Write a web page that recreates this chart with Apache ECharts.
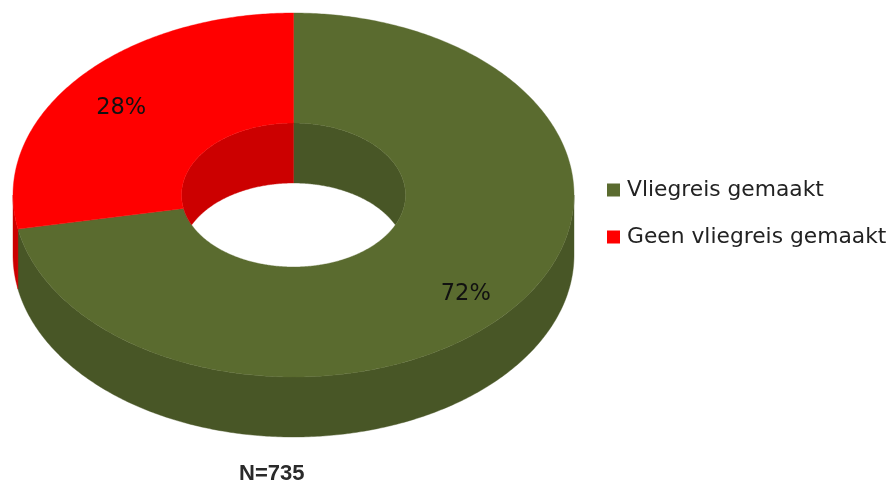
<!DOCTYPE html>
<html><head><meta charset="utf-8">
<style>html,body{margin:0;padding:0;background:#fff}#c{width:892px;height:481px}</style>
<script src="https://cdn.jsdelivr.net/npm/echarts@6/dist/echarts.min.js"></script>
</head><body><div id="c"></div>
<script>
const categories = ['Vliegreis gemaakt', 'Geen vliegreis gemaakt'];
const percentages = [72, 28];
const sampleNote = 'N=735';
const faceColors = ['#5a6b2f', '#ff0000'];
const wallColors = ['#485626', '#cc0000'];

const geom = {cx: 293.5, cy: 195, rx: 280.5, ry: 182, irx: 112, iry: 72, depth: 60};
const total = percentages.reduce((a, b) => a + b, 0);
const TAU = Math.PI * 2;
function pt(a, rx, ry, dy) {
  return [geom.cx + rx * Math.sin(a), geom.cy + (dy || 0) - ry * Math.cos(a)];
}
function sampleAngles(a0, a1) {
  const n = Math.max(2, Math.ceil((a1 - a0) / 0.01));
  const out = [];
  for (let i = 0; i <= n; i++) out.push(a0 + (a1 - a0) * i / n);
  return out;
}
function renderSlice(idx) {
  return function () {
    let before = 0;
    for (let i = 0; i < idx; i++) before += percentages[i];
    const a0 = before / total * TAU;
    const a1 = (before + percentages[idx]) / total * TAU;
    const children = [];
    const style = c => ({fill: c, stroke: c, lineWidth: 0.4});
    // outer wall: front half (PI/2 .. 3PI/2)
    const w0 = Math.max(a0, Math.PI / 2), w1 = Math.min(a1, Math.PI * 1.5);
    if (w1 > w0) {
      const as = sampleAngles(w0, w1);
      const pts = as.map(a => pt(a, geom.rx, geom.ry));
      as.slice().reverse().forEach(a => pts.push(pt(a, geom.rx, geom.ry, geom.depth)));
      children.push({type: 'polygon', shape: {points: pts}, style: style(wallColors[idx])});
    }
    // inner wall: back half of the hole, clipped to the hole
    [[-TAU, 0], [0, TAU]].forEach(([lo]) => {
      const s = Math.max(a0 + lo, -Math.PI / 2), e = Math.min(a1 + lo, Math.PI / 2);
      if (e <= s) return;
      const as = sampleAngles(s, e);
      const pts = as.map(a => pt(a, geom.irx, geom.iry));
      as.slice().reverse().forEach(a => {
        const top = pt(a, geom.irx, geom.iry);
        const floor = geom.cy + geom.iry * Math.cos(a);
        pts.push([top[0], Math.min(top[1] + geom.depth, floor)]);
      });
      children.push({type: 'polygon', shape: {points: pts}, style: style(wallColors[idx])});
    });
    // top face
    const as = sampleAngles(a0, a1);
    const face = as.map(a => pt(a, geom.rx, geom.ry));
    as.slice().reverse().forEach(a => face.push(pt(a, geom.irx, geom.iry)));
    children.push({type: 'polygon', shape: {points: face}, style: style(faceColors[idx])});
    // percentage label
    const mid = (a0 + a1) / 2;
    const p = pt(mid, geom.rx * 0.797, geom.ry * 0.8, 6);
    children.push({type: 'text', style: {
      text: percentages[idx] + '%', x: p[0], y: p[1], align: 'center', verticalAlign: 'middle',
      font: '22.5px "DejaVu Sans"', fill: '#111'
    }});
    return {type: 'group', children};
  };
}
const chart = echarts.init(document.getElementById('c'), null, {renderer: 'canvas'});
chart.setOption({
  animation: false,
  backgroundColor: '#fff',
  title: {
    text: sampleNote, left: 239, top: 463, padding: 0,
    textStyle: {fontFamily: 'Liberation Sans', fontWeight: 'bold', fontSize: 22, color: '#2a2a2a'}
  },
  legend: {
    orient: 'vertical', left: 607, top: 179, padding: 0, itemWidth: 13, itemHeight: 13, itemGap: 25,
    icon: 'rect', selectedMode: false, data: categories,
    textStyle: {fontFamily: 'DejaVu Sans', fontSize: 21.8, color: '#222', padding: [0, 0, 0, 2]}
  },
  series: categories.map((name, i) => ({
    type: 'custom', name, coordinateSystem: 'none',
    itemStyle: {color: faceColors[i]},
    renderItem: renderSlice(i),
    data: [percentages[i]], silent: true
  }))
});
</script></body></html>
